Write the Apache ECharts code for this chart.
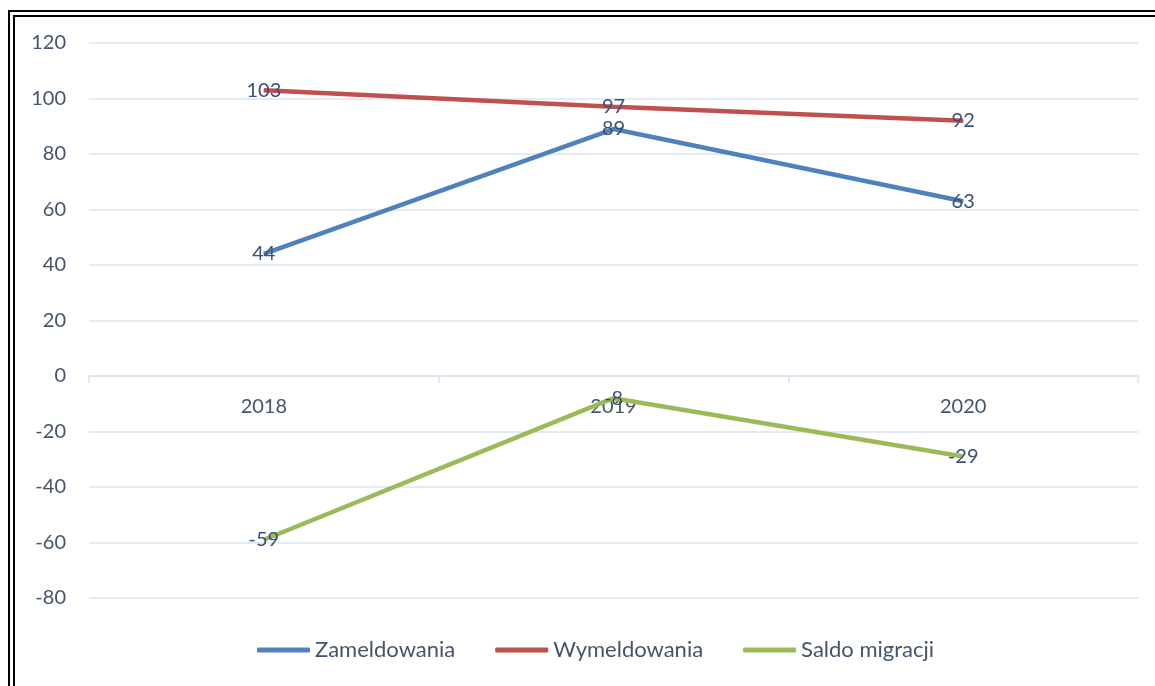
<!DOCTYPE html>
<html>
<head>
	<meta charset="utf-8">
	<title>Migracje</title>
	<style type="text/css">
		html, body {
			margin: 0;
			padding: 0;
			background-color: #fff;
		}
		.frame {
			position: absolute;
			left: 8px;
			top: 10px;
			width: 1200px;
			height: 720px;
			border-left: 7px double #000;
			border-top: 7px double #000;
		}
		#main {
			position: absolute;
			left: 0;
			top: 0;
			width: 1155px;
			height: 686px;
		}
	</style>
	<script src="https://cdn.jsdelivr.net/npm/echarts@6/dist/echarts.min.js"></script>
</head>
<body>
	<div class="frame"></div>
	<div id="main"></div>

	<script type="text/javascript">
	// dane
	var years = ['2018', '2019', '2020'];
	var zameldowania = [44, 89, 63];
	var wymeldowania = [103, 97, 92];
	var saldo = [-59, -8, -29];

	var textColor = '#44546a';
	var gridColor = '#d9e5f3';

	function lineSeries(name, data, color) {
		return {
			name: name,
			type: 'line',
			data: data,
			symbol: 'circle',
			symbolSize: 1,
			showSymbol: true,
			lineStyle: { color: color, width: 4.5 },
			itemStyle: { color: color },
			label: {
				show: true,
				position: 'inside',
				color: '#3b5277',
				fontFamily: 'Lato',
				fontSize: 20
			}
		};
	}

	var chart = echarts.init(document.getElementById('main'));
	chart.setOption({
		animation: false,
		grid: { left: 89, right: 17, top: 43, bottom: 88 },
		legend: {
			bottom: 20,
			left: 252,
			icon: 'roundRect',
			itemWidth: 53,
			itemHeight: 5,
			itemGap: 40,
			textStyle: { color: textColor, fontFamily: 'Lato', fontSize: 22 },
			data: ['Zameldowania', 'Wymeldowania', 'Saldo migracji']
		},
		xAxis: {
			type: 'category',
			data: years,
			// os X na wysokosci zera (222 px nad dolem siatki)
			offset: -222,
			axisLine: { onZero: false, lineStyle: { color: gridColor, width: 1.5 } },
			axisTick: { show: true, length: 7, lineStyle: { color: gridColor, width: 1.5 } },
			axisLabel: { margin: 21, color: textColor, fontFamily: 'Lato', fontSize: 20 }
		},
		yAxis: {
			type: 'value',
			min: -80,
			max: 120,
			interval: 20,
			axisLine: { show: false },
			axisTick: { show: false },
			splitLine: { lineStyle: { color: gridColor, width: 1.5 } },
			axisLabel: { margin: 23, color: textColor, fontFamily: 'Lato', fontSize: 20 }
		},
		series: [
			lineSeries('Zameldowania', zameldowania, '#4f81bd'),
			lineSeries('Wymeldowania', wymeldowania, '#c0504d'),
			lineSeries('Saldo migracji', saldo, '#9bbb59')
		]
	});
	</script>
</body>
</html>
